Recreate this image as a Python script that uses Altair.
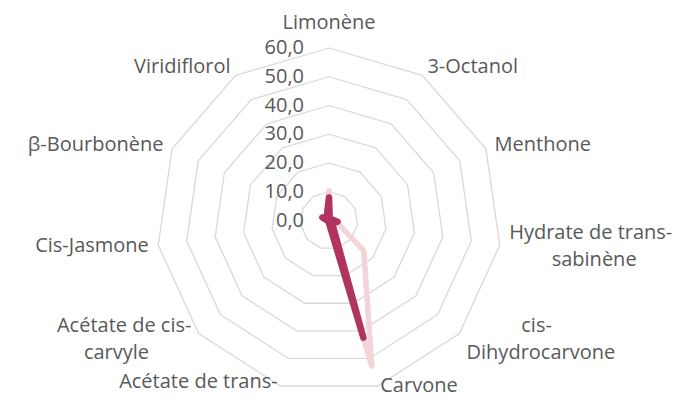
import pandas as pd
import altair as alt

# ---------------- data ----------------
categories = [
    ["Limonène"],
    ["3-Octanol"],
    ["Menthone"],
    ["Hydrate de trans-", "sabinène"],
    ["cis-", "Dihydrocarvone"],
    ["Carvone"],
    ["Acétate de trans-", "dihydrocarvyle"],
    ["Acétate de cis-", "carvyle"],
    ["Cis-Jasmone"],
    ["β-Bourbonène"],
    ["Viridiflorol"],
]
series_names = ["Série 1", "Série 2"]
values_light = [10.3, 0.5, 1.0, 2.5, 16.0, 52.8, 0.5, 0.5, 0.5, 3.0, 1.0]
values_dark = [8.0, 0.5, 1.0, 3.0, 1.5, 42.5, 0.5, 0.5, 0.5, 2.5, 1.5]
series_colors = ["#F3D5D8", "#B0345F"]
ring_values = [10, 20, 30, 40, 50, 60]
tick_values = [0, 10, 20, 30, 40, 50, 60]
tick_labels = ["0,0", "10,0", "20,0", "30,0", "40,0", "50,0", "60,0"]

# ---------------- layout ----------------
N = len(categories)
K = 2.875          # pixels per value unit
W, H = 665, 390
CX, CY = 321, 212.5
RL = 60 + 9.5 / K  # label anchor radius
LH = 27 / K        # line height in units
CW = 10 / K        # approx char width in units
YMIN = -(H - CY) / K
FONT = "Open Sans"
FS = 20
TXT = "#595959"

theta_expr = f"2*PI*datum.cat/{N}"

rows = []
for name, vals in zip(series_names, [values_light, values_dark]):
    for j in range(N + 1):
        rows.append({"series": name, "order": j, "cat": j % N, "value": vals[j % N]})
series_df = pd.DataFrame(rows)

grid_df = pd.DataFrame(
    [{"ring": r, "order": j, "cat": j % N} for r in ring_values for j in range(N + 1)]
)

label_rows = []
for i, lines in enumerate(categories):
    longest = max(lines, key=len)
    for li, t in enumerate(lines):
        label_rows.append({"cat": i, "text": t, "line": li, "nlines": len(lines),
                           "main": t == longest, "maxlen": len(longest)})
label_df = pd.DataFrame(label_rows)

ticks_df = pd.DataFrame({"value": tick_values, "text": tick_labels})

xscale = alt.Scale(domain=[-CX / K, (W - CX) / K], nice=False, zero=False)
yscale = alt.Scale(domain=[YMIN, CY / K], nice=False, zero=False)


def X(f):
    return alt.X(f, type="quantitative", scale=xscale, axis=None)


def Y(f):
    return alt.Y(f, type="quantitative", scale=yscale, axis=None)


grid = (
    alt.Chart(grid_df)
    .transform_calculate(theta=theta_expr)
    .transform_calculate(gx="datum.ring*sin(datum.theta)")
    .transform_calculate(gy="datum.ring*cos(datum.theta)")
    .mark_line(color="#D9D9D9", strokeWidth=1.3)
    .encode(x=X("gx"), y=Y("gy"), detail="ring:N", order="order:Q")
)

ticks = (
    alt.Chart(ticks_df)
    .transform_calculate(tx="0")
    .mark_text(align="right", baseline="middle", dx=-25, font=FONT, fontSize=FS, color=TXT)
    .encode(x=X("tx"), y=Y("value"), text="text:N")
)


def series_layer(name, color, width):
    return (
        alt.Chart(series_df)
        .transform_filter(alt.datum.series == name)
        .transform_calculate(theta=theta_expr)
        .transform_calculate(px="datum.value*sin(datum.theta)")
        .transform_calculate(py="datum.value*cos(datum.theta)")
        .mark_line(color=color, strokeWidth=width, strokeCap="round", strokeJoin="round")
        .encode(x=X("px"), y=Y("py"), order="order:Q")
    )


light = series_layer(series_names[0], series_colors[0], 5.5)
dark = series_layer(series_names[1], series_colors[1], 6.5)

lab = (
    alt.Chart(label_df)
    .transform_calculate(theta=theta_expr)
    .transform_calculate(s="sin(datum.theta)")
    .transform_calculate(c="cos(datum.theta)")
    .transform_calculate(side="datum.s > 0.05 ? 1 : (datum.s < -0.05 ? -1 : 0)")
    .transform_calculate(ax=f"{RL}*datum.s")
    .transform_calculate(ly0=f"{RL}*datum.c - (datum.line - (datum.nlines-1)/2)*{LH}")
    # keep single-line labels inside the drawing area
    .transform_calculate(
        ly=f"datum.nlines == 1 ? max(datum.ly0, {YMIN + 12.5 / K}) : datum.ly0"
    )
    .transform_calculate(
        lx=f"datum.main ? datum.ax : datum.ax + datum.side*datum.maxlen*{CW}/2"
    )
)


def lab_layer(cond, align, dy=0):
    return (
        lab.transform_filter(cond)
        .mark_text(align=align, baseline="middle", dy=dy, font=FONT, fontSize=FS, color=TXT)
        .encode(x=X("lx"), y=Y("ly"), text="text:N")
    )


lab_left = lab_layer("datum.main && datum.side == 1", "left")
lab_right = lab_layer("datum.main && datum.side == -1", "right")
lab_center = lab_layer("datum.main && datum.side == 0", "center", dy=-16)
lab_sub = lab_layer("!datum.main", "center")

chart = (
    alt.layer(grid, ticks, lab_left, lab_right, lab_center, lab_sub, light, dark)
    .properties(width=W, height=H, padding=0, autosize=alt.AutoSizeParams(type="none"))
    .configure_view(stroke=None)
)

chart.save("out.html", embed_options={"renderer": "svg", "actions": False})
